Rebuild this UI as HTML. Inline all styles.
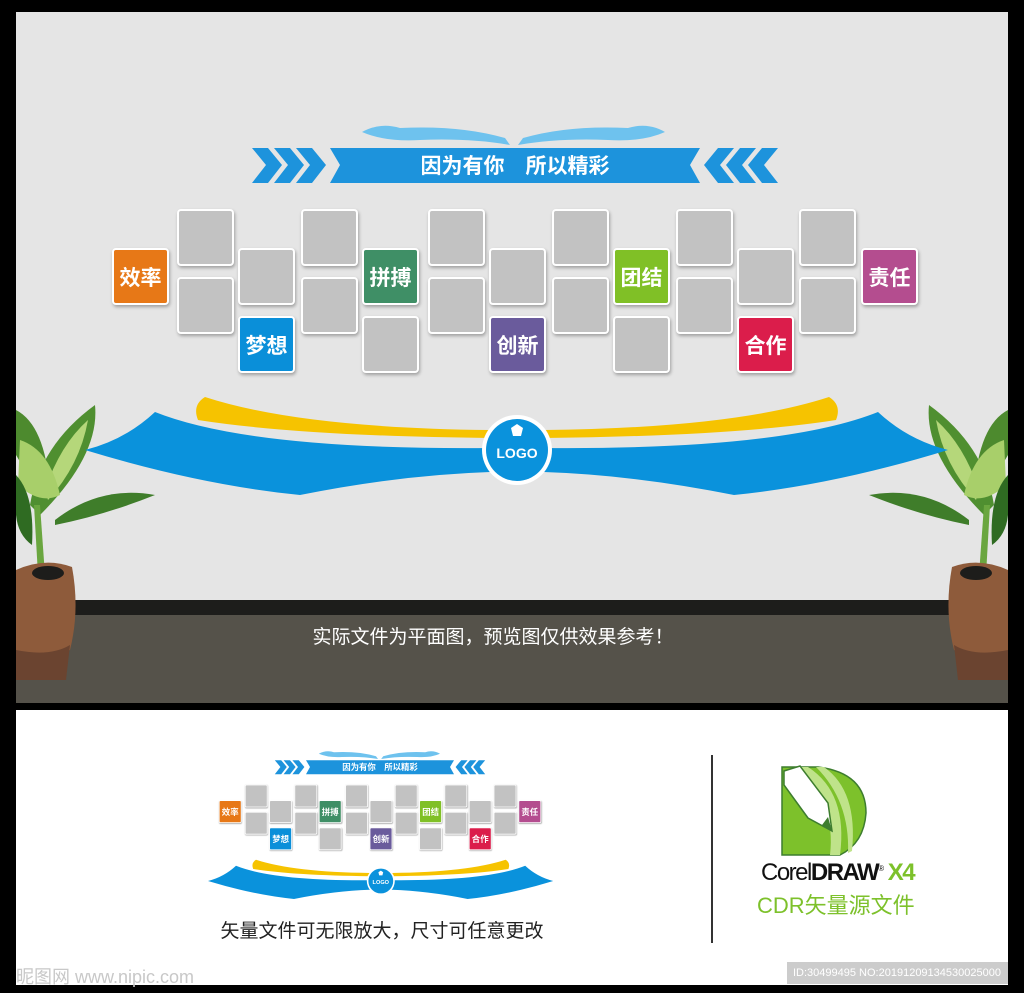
<!DOCTYPE html>
<html><head><meta charset="utf-8"><style>
*{margin:0;padding:0;box-sizing:border-box}
body{width:1024px;height:993px;background:#000;position:relative;overflow:hidden;font-family:"Liberation Sans","Noto Sans CJK SC",sans-serif}
.abs{position:absolute}
.d{position:absolute;left:0;top:0;width:1024px;height:600px}
.t{position:absolute;width:57px;height:57px;border:2px solid #fff;border-radius:4px;background:#c2c2c2;box-shadow:1px 2px 3px rgba(0,0,0,.3)}
.w{color:#fff;font-weight:bold;font-size:21px;display:flex;align-items:center;justify-content:center;font-family:"Noto Sans CJK SC",sans-serif}
</style></head><body>
<div class="abs" style="left:16px;top:12px;width:992px;height:590px;background:#e5e5e5"></div>
<div class="abs" style="left:16px;top:600px;width:992px;height:15px;background:#1d1d1b"></div>
<div class="abs" style="left:16px;top:615px;width:992px;height:88px;background:#55524a"></div>
<div class="abs" style="left:0;top:622px;width:986px;text-align:center;color:#fff;font-size:19px;font-family:'Noto Sans CJK SC',sans-serif">实际文件为平面图，预览图仅供效果参考！</div>
<div class="abs" style="left:16px;top:710px;width:992px;height:275px;background:#fff"></div>

<!-- plants -->
<svg class="abs" style="left:0;top:395px" width="1024" height="300">
<g id="pl">
<path d="M16,15 Q45,30 50,95 Q30,85 16,60Z" fill="#4d8a2e"/>
<path d="M30,110 Q40,50 95,10 Q100,60 40,120Z" fill="#4f8f30"/>
<path d="M45,95 Q60,50 88,25 Q80,70 48,105Z" fill="#b5d77a"/>
<path d="M20,45 Q50,55 60,100 Q40,110 18,90Z" fill="#a8cf6a"/>
<path d="M55,125 Q100,90 155,100 Q105,120 55,130Z" fill="#3f7d2a"/>
<path d="M16,80 Q35,100 32,150 Q18,140 16,120Z" fill="#2f6b22"/>
<path d="M34,110 L40,110 L45,180 L38,180Z" fill="#6aa63f"/>
<path d="M16,175 Q45,162 72,172 Q80,215 70,255 Q55,265 16,262Z" fill="#8e5b3b"/>
<path d="M16,255 Q50,262 70,250 L66,285 L16,285Z" fill="#6b4430"/>
<ellipse cx="48" cy="178" rx="16" ry="7" fill="#1d1d1b"/>
</g>
<g transform="translate(1024,0) scale(-1,1)">
<path d="M16,15 Q45,30 50,95 Q30,85 16,60Z" fill="#4d8a2e"/>
<path d="M30,110 Q40,50 95,10 Q100,60 40,120Z" fill="#4f8f30"/>
<path d="M45,95 Q60,50 88,25 Q80,70 48,105Z" fill="#b5d77a"/>
<path d="M20,45 Q50,55 60,100 Q40,110 18,90Z" fill="#a8cf6a"/>
<path d="M55,125 Q100,90 155,100 Q105,120 55,130Z" fill="#3f7d2a"/>
<path d="M16,80 Q35,100 32,150 Q18,140 16,120Z" fill="#2f6b22"/>
<path d="M34,110 L40,110 L45,180 L38,180Z" fill="#6aa63f"/>
<path d="M16,175 Q45,162 72,172 Q80,215 70,255 Q55,265 16,262Z" fill="#8e5b3b"/>
<path d="M16,255 Q50,262 70,250 L66,285 L16,285Z" fill="#6b4430"/>
<ellipse cx="48" cy="178" rx="16" ry="7" fill="#1d1d1b"/>
</g>
</svg>

<!-- main diagram -->
<div class="d">
<svg class="abs" style="left:0;top:0" width="1024" height="600">
<path d="M362,132 Q380,122 400,128 Q460,125 505,138 L510,145 Q470,138 420,140 Q385,142 362,132Z M665,132 Q648,122 628,128 Q568,125 523,138 L518,145 Q558,138 608,140 Q643,142 665,132Z" fill="#6ec2ee"/>
<g fill="#1d93dc">
<path d="M252,148 h16 l14,17 l-14,18 h-16 l14,-18z"/><path d="M274,148 h16 l14,17 l-14,18 h-16 l14,-18z"/><path d="M296,148 h16 l14,17 l-14,18 h-16 l14,-18z"/>
<path d="M330,148 H700 L690,165 L700,183 H330 L340,165Z"/>
<path d="M778,148 h-16 l-14,17 l14,18 h16 l-14,-18z"/><path d="M756,148 h-16 l-14,17 l14,18 h16 l-14,-18z"/><path d="M734,148 h-16 l-14,17 l14,18 h16 l-14,-18z"/>
</g>
<text x="515" y="173" text-anchor="middle" fill="#fff" font-size="21" font-weight="bold" font-family="Noto Sans CJK SC,sans-serif">因为有你　所以精彩</text>
<path d="M205,397 Q300,428 490,430 L490,438 Q300,436 198,420 Q192,405 205,397Z M829,397 Q734,428 544,430 L544,438 Q734,436 836,420 Q842,405 829,397Z" fill="#f6c300"/>
<path d="M85,450 Q125,440 155,412 Q250,450 490,448 L490,472 Q400,475 300,495 Q200,485 85,450Z M948,450 Q908,440 878,412 Q783,450 544,448 L544,472 Q634,475 734,495 Q834,485 948,450Z" fill="#0a92dc"/>
<circle cx="517" cy="450" r="35" fill="#fff"/><circle cx="517" cy="450" r="31" fill="#0a92dc"/>
<path d="M511,428 L517,424 L523,428 L521,436 L513,436Z" fill="#fff"/>
<text x="517" y="458" text-anchor="middle" fill="#fff" font-size="14" font-weight="bold">LOGO</text>
</svg>
<div class="t w" style="left:112px;top:248px;background:#e77817">效率</div>
<div class="t" style="left:177px;top:209px"></div><div class="t" style="left:177px;top:277px"></div>
<div class="t" style="left:238px;top:248px"></div><div class="t w" style="left:238px;top:316px;background:#0a8fd9">梦想</div>
<div class="t" style="left:301px;top:209px"></div><div class="t" style="left:301px;top:277px"></div>
<div class="t w" style="left:362px;top:248px;background:#3f8f66">拼搏</div><div class="t" style="left:362px;top:316px"></div>
<div class="t" style="left:428px;top:209px"></div><div class="t" style="left:428px;top:277px"></div>
<div class="t" style="left:489px;top:248px"></div><div class="t w" style="left:489px;top:316px;background:#6a5b9c">创新</div>
<div class="t" style="left:552px;top:209px"></div><div class="t" style="left:552px;top:277px"></div>
<div class="t w" style="left:613px;top:248px;background:#80c026">团结</div><div class="t" style="left:613px;top:316px"></div>
<div class="t" style="left:676px;top:209px"></div><div class="t" style="left:676px;top:277px"></div>
<div class="t" style="left:737px;top:248px"></div><div class="t w" style="left:737px;top:316px;background:#db1d4b">合作</div>
<div class="t" style="left:799px;top:209px"></div><div class="t" style="left:799px;top:277px"></div>
<div class="t w" style="left:861px;top:248px;background:#b44d8f">责任</div>
</div>

<!-- thumbnail -->
<div class="d" style="transform-origin:0 0;transform:translate(174px,701px) scale(0.4)">
<svg class="abs" style="left:0;top:0" width="1024" height="600">
<path d="M362,132 Q380,122 400,128 Q460,125 505,138 L510,145 Q470,138 420,140 Q385,142 362,132Z M665,132 Q648,122 628,128 Q568,125 523,138 L518,145 Q558,138 608,140 Q643,142 665,132Z" fill="#6ec2ee"/>
<g fill="#1d93dc">
<path d="M252,148 h16 l14,17 l-14,18 h-16 l14,-18z"/><path d="M274,148 h16 l14,17 l-14,18 h-16 l14,-18z"/><path d="M296,148 h16 l14,17 l-14,18 h-16 l14,-18z"/>
<path d="M330,148 H700 L690,165 L700,183 H330 L340,165Z"/>
<path d="M778,148 h-16 l-14,17 l14,18 h16 l-14,-18z"/><path d="M756,148 h-16 l-14,17 l14,18 h16 l-14,-18z"/><path d="M734,148 h-16 l-14,17 l14,18 h16 l-14,-18z"/>
</g>
<text x="515" y="173" text-anchor="middle" fill="#fff" font-size="21" font-weight="bold" font-family="Noto Sans CJK SC,sans-serif">因为有你　所以精彩</text>
<path d="M205,397 Q300,428 490,430 L490,438 Q300,436 198,420 Q192,405 205,397Z M829,397 Q734,428 544,430 L544,438 Q734,436 836,420 Q842,405 829,397Z" fill="#f6c300"/>
<path d="M85,450 Q125,440 155,412 Q250,450 490,448 L490,472 Q400,475 300,495 Q200,485 85,450Z M948,450 Q908,440 878,412 Q783,450 544,448 L544,472 Q634,475 734,495 Q834,485 948,450Z" fill="#0a92dc"/>
<circle cx="517" cy="450" r="35" fill="#fff"/><circle cx="517" cy="450" r="31" fill="#0a92dc"/>
<path d="M511,428 L517,424 L523,428 L521,436 L513,436Z" fill="#fff"/>
<text x="517" y="458" text-anchor="middle" fill="#fff" font-size="14" font-weight="bold">LOGO</text>
</svg>
<div class="t w" style="left:112px;top:248px;background:#e77817">效率</div>
<div class="t" style="left:177px;top:209px"></div><div class="t" style="left:177px;top:277px"></div>
<div class="t" style="left:238px;top:248px"></div><div class="t w" style="left:238px;top:316px;background:#0a8fd9">梦想</div>
<div class="t" style="left:301px;top:209px"></div><div class="t" style="left:301px;top:277px"></div>
<div class="t w" style="left:362px;top:248px;background:#3f8f66">拼搏</div><div class="t" style="left:362px;top:316px"></div>
<div class="t" style="left:428px;top:209px"></div><div class="t" style="left:428px;top:277px"></div>
<div class="t" style="left:489px;top:248px"></div><div class="t w" style="left:489px;top:316px;background:#6a5b9c">创新</div>
<div class="t" style="left:552px;top:209px"></div><div class="t" style="left:552px;top:277px"></div>
<div class="t w" style="left:613px;top:248px;background:#80c026">团结</div><div class="t" style="left:613px;top:316px"></div>
<div class="t" style="left:676px;top:209px"></div><div class="t" style="left:676px;top:277px"></div>
<div class="t" style="left:737px;top:248px"></div><div class="t w" style="left:737px;top:316px;background:#db1d4b">合作</div>
<div class="t" style="left:799px;top:209px"></div><div class="t" style="left:799px;top:277px"></div>
<div class="t w" style="left:861px;top:248px;background:#b44d8f">责任</div>
</div>

<div class="abs" style="left:200px;top:916px;width:364px;text-align:center;font-size:19px;color:#222;font-family:'Noto Sans CJK SC',sans-serif">矢量文件可无限放大，尺寸可任意更改</div>
<div class="abs" style="left:711px;top:755px;width:2px;height:188px;background:#333"></div>
<svg class="abs" style="left:778px;top:763px" width="90" height="95">
<path d="M4,4 H40 Q88,10 88,50 Q86,80 62,92 H4Z" fill="#7dc12b" stroke="#3d7d2e" stroke-width="1.5"/>
<path d="M30,4 Q70,30 62,92 H52 Q58,40 20,4Z M46,4 Q80,28 74,88 L70,90 Q72,38 38,4Z" fill="#bfe38a"/>
<path d="M6,8 L22,3 L50,40 L54,68 L30,55 L6,22Z" fill="#fff" stroke="#3d7d2e" stroke-width="1.5"/>
<path d="M44,62 L54,68 L50,54Z" fill="#3d7d2e"/>
</svg>
<div class="abs" style="left:761px;top:859px;font-size:24px;color:#111;letter-spacing:-1.5px;white-space:nowrap">Corel<b>DRAW</b><sup style="font-size:8px">®</sup> <b style="color:#7dc12b">X4</b></div>
<div class="abs" style="left:757px;top:888px;font-size:22px;color:#7dc12b;white-space:nowrap;font-family:'Liberation Sans','Noto Sans CJK SC',sans-serif">CDR矢量源文件</div>
<div class="abs" style="left:16px;top:963px;font-size:18px;color:#c8c8c8;white-space:nowrap;font-family:'Liberation Sans','Noto Sans CJK SC',sans-serif">昵图网 www.nipic.com</div>
<div class="abs" style="left:787px;top:962px;width:221px;height:22px;background:#ccc;color:#fff;font-size:11px;line-height:22px;padding-left:6px;white-space:nowrap;overflow:hidden">ID:30499495 NO:20191209134530025000</div>
</body></html>
